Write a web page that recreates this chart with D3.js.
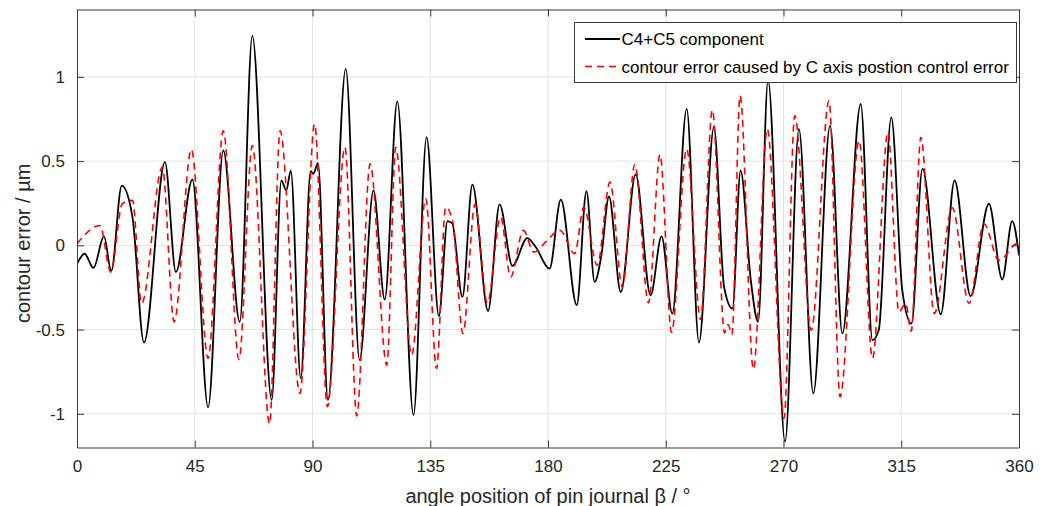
<!DOCTYPE html>
<html>
<head>
<meta charset="utf-8">
<script src="https://cdn.jsdelivr.net/npm/d3@7"></script>
<style>
  html, body { margin: 0; padding: 0; background: #fff; }
  svg { display: block; font-family: Arial, "Liberation Sans", sans-serif; }
</style>
</head>
<body>
<svg id="chart" width="1050" height="506"></svg>
<script>
// ---- data ----
const xTicks = [0, 45, 90, 135, 180, 225, 270, 315, 360];
const yTicks = [-1, -0.5, 0, 0.5, 1];
const yTickLabels = ["-1", "-0.5", "0", "0.5", "1"];
const seriesNames = ["C4+C5 component", "contour error caused by C axis postion control error"];

const blackAngle = [0, 2.9, 6.3, 10.3, 13.1, 17.1, 21.2, 25.6, 33.6, 37.8, 44.1, 50.1, 55.9, 62.2, 67.0, 74.4, 78.1, 80.0, 81.7, 85.5, 89.3, 90.3, 92.1, 95.9, 102.7, 108.0, 113.3, 117.6, 122.4, 128.6, 133.6, 138.3, 141.6, 143.4, 147.3, 151.1, 157.1, 161.5, 166.4, 172.1, 175.3, 180.6, 184.9, 191.0, 194.7, 197.8, 200.4, 203.3, 207.8, 213.5, 219.2, 223.4, 227.5, 233.0, 237.7, 243.4, 247.3, 250.5, 253.6, 257.5, 260.3, 264.1, 270.6, 275.9, 281.4, 287.8, 292.5, 299.5, 304.0, 306.4, 311.2, 315.4, 318.9, 323.1, 330.1, 335.4, 341.5, 348.5, 353.6, 357.4, 360];
const blackValue = [-0.11, -0.05, -0.134, 0.053, -0.152, 0.355, 0.168, -0.577, 0.494, -0.158, 0.391, -0.962, 0.563, -0.454, 1.244, -0.918, 0.385, 0.326, 0.444, -0.79, 0.44, 0.425, 0.488, -0.918, 1.047, -0.681, 0.326, -0.322, 0.855, -1.007, 0.642, -0.42, 0.144, 0.13, -0.306, 0.361, -0.389, 0.243, -0.122, 0.043, -0.01, -0.138, 0.272, -0.355, 0.322, -0.217, -0.059, 0.29, -0.277, 0.421, -0.296, 0.053, -0.405, 0.81, -0.577, 0.701, -0.247, -0.375, 0.444, -0.207, -0.454, 0.98, -1.165, 0.691, -0.879, 0.711, -0.523, 0.839, -0.563, -0.503, 0.76, -0.267, -0.464, 0.454, -0.409, 0.385, -0.302, 0.247, -0.203, 0.144, -0.059];

const redAngle = [0, 8.8, 12.9, 17.3, 21.2, 24.7, 32.6, 37.1, 43.7, 50.1, 55.9, 61.9, 67.0, 73.6, 77.6, 85.2, 90.8, 95.7, 102.4, 106.9, 112.0, 118.4, 121.8, 127.9, 133.3, 137.4, 140.9, 143.5, 147.5, 152.1, 156.8, 161.9, 165.7, 170.6, 174.6, 179.7, 184.5, 190.2, 193.7, 198.8, 203.7, 208.4, 213.2, 218.4, 222.8, 227.2, 233.0, 238.3, 242.8, 247.5, 248.8, 250.3, 253.4, 258.5, 263.8, 270.2, 274.3, 280.6, 287.4, 291.6, 298.9, 304.0, 309.9, 314.1, 316.7, 318.8, 322.5, 327.6, 334.5, 340.9, 346.6, 352.3, 359.4, 360];
const redValue = [0.01, 0.118, -0.158, 0.247, 0.267, -0.345, 0.464, -0.454, 0.569, -0.671, 0.68, -0.677, 0.592, -1.06, 0.68, -0.879, 0.72, -0.958, 0.582, -1.013, 0.484, -0.711, 0.582, -0.652, 0.277, -0.731, 0.227, 0.148, -0.523, 0.243, -0.342, 0.168, -0.188, 0.089, -0.04, 0.03, 0.09, -0.049, 0.227, -0.118, 0.375, -0.247, 0.48, -0.342, 0.539, -0.517, 0.573, -0.44, 0.804, -0.52, -0.47, -0.53, 0.889, -0.736, 0.691, -1.027, 0.77, -0.504, 0.859, -0.899, 0.622, -0.671, 0.671, -0.395, -0.345, -0.51, 0.642, -0.405, 0.223, -0.345, 0.128, -0.089, 0.01, 0.0];

// ---- layout ----
const svg = d3.select("#chart");
const pL = 77, pR = 1019, pT = 9.5, pB = 447.5;
const x = d3.scaleLinear().domain([0, 360]).range([pL, pR]);
const y = d3.scaleLinear().domain([-1.2, 1.4]).range([pB, pT]);
const axisColor = "#3a3a3a";
const textColor = "#262626";

// grid
const g = svg.append("g");
g.selectAll(".vg").data(xTicks.slice(1, -1)).join("line")
  .attr("x1", d => x(d)).attr("x2", d => x(d)).attr("y1", pT).attr("y2", pB)
  .attr("stroke", "#e3e3e3").attr("stroke-width", 1);
g.selectAll(".hg").data(yTicks).join("line")
  .attr("y1", d => y(d)).attr("y2", d => y(d)).attr("x1", pL).attr("x2", pR)
  .attr("stroke", "#e3e3e3").attr("stroke-width", 1);

// clip
svg.append("clipPath").attr("id", "clip").append("rect")
  .attr("x", pL).attr("y", pT).attr("width", pR - pL).attr("height", pB - pT);

const line = d3.line().x(d => x(d[0])).y(d => y(d[1])).curve(d3.curveMonotoneX);
const blackData = blackAngle.map((a, i) => [a, blackValue[i]]);
const redData = redAngle.map((a, i) => [a, redValue[i]]);

const plot = svg.append("g").attr("clip-path", "url(#clip)");
plot.append("path").datum(blackData).attr("d", line)
  .attr("fill", "none").attr("stroke", "#000").attr("stroke-width", 1.8).attr("stroke-linejoin", "round");
plot.append("path").datum(redData).attr("d", line)
  .attr("fill", "none").attr("stroke", "#ff0000").attr("stroke-width", 1.6)
  .attr("stroke-dasharray", "7,5");

// axes (MATLAB-like, ticks inward on all sides)
const tl = 7;
const axB = d3.axisBottom(x).tickValues(xTicks).tickSizeInner(-tl).tickSizeOuter(0).tickPadding(12);
const axT = d3.axisTop(x).tickValues(xTicks).tickSizeInner(-tl).tickSizeOuter(0).tickFormat("");
const axL = d3.axisLeft(y).tickValues(yTicks).tickSizeInner(-tl).tickSizeOuter(0).tickPadding(12)
  .tickFormat((d, i) => yTickLabels[i]);
const axR = d3.axisRight(y).tickValues(yTicks).tickSizeInner(-tl).tickSizeOuter(0).tickFormat("");

function styleAxis(sel) {
  sel.select(".domain").attr("stroke", axisColor).attr("stroke-width", 1);
  sel.selectAll(".tick line").attr("stroke", axisColor).attr("stroke-width", 1);
  sel.selectAll(".tick text").attr("fill", textColor).style("font-size", "17px")
     .style("font-family", "Arial, 'Liberation Sans', sans-serif");
}
svg.append("g").attr("transform", `translate(0,${pB})`).call(axB).call(styleAxis);
svg.append("g").attr("transform", `translate(0,${pT})`).call(axT).call(styleAxis);
svg.append("g").attr("transform", `translate(${pL},0)`).call(axL).call(styleAxis);
svg.append("g").attr("transform", `translate(${pR},0)`).call(axR).call(styleAxis);

// axis labels
svg.append("text").attr("x", (pL + pR) / 2).attr("y", 503)
  .attr("text-anchor", "middle").attr("fill", textColor).style("font-size", "20px")
  .text("angle position of pin journal β / °");
svg.append("text").attr("transform", `translate(30,${(y(0.5) + y(-0.5)) / 2 - 2}) rotate(-90)`)
  .attr("text-anchor", "middle").attr("fill", textColor).style("font-size", "20px")
  .text("contour error / µm");

// legend
const lg = svg.append("g");
lg.append("rect").attr("x", 574.5).attr("y", 22.5).attr("width", 442).attr("height", 60)
  .attr("fill", "#fff").attr("stroke", axisColor).attr("stroke-width", 1);
const rows = [{ c: "#000", dash: null, w: 1.8 }, { c: "#ff0000", dash: "7,5", w: 1.6 }];
rows.forEach((r, i) => {
  const yy = 39 + i * 27.5;
  lg.append("line").attr("x1", 585).attr("x2", 620).attr("y1", yy).attr("y2", yy)
    .attr("stroke", r.c).attr("stroke-width", r.w).attr("stroke-dasharray", r.dash);
  lg.append("text").attr("x", 621.5).attr("y", yy + 6).attr("fill", "#000")
    .style("font-size", "17px").text(seriesNames[i]);
});
</script>
</body>
</html>
